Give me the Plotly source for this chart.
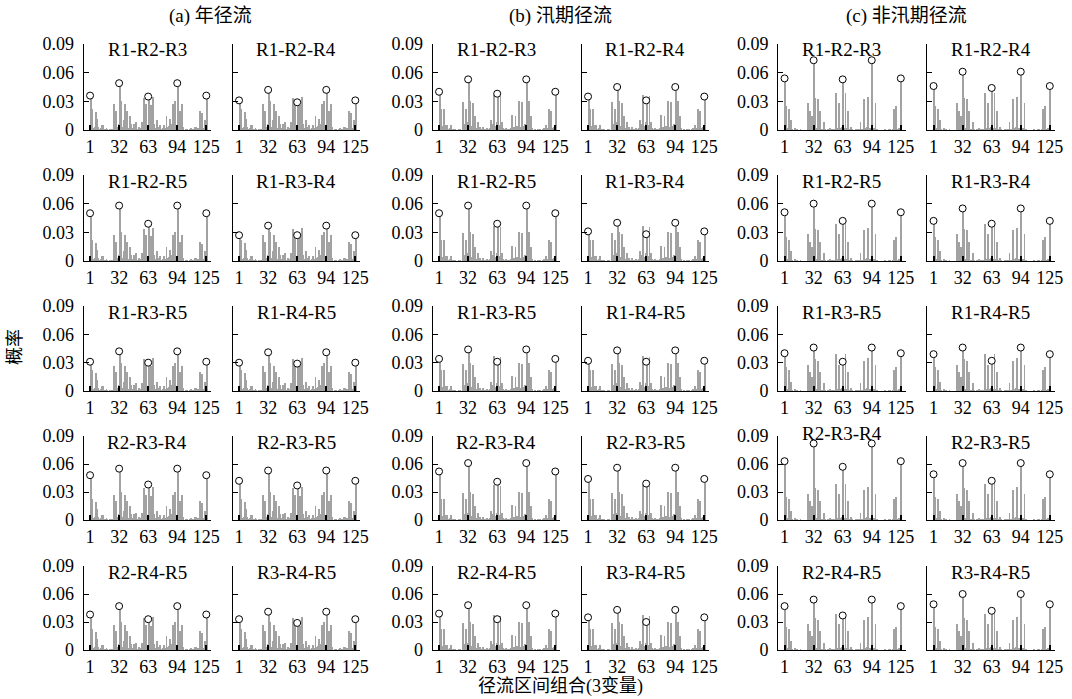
import plotly.graph_objects as go

# ---------------- data ----------------
X_INDEX = list(range(1, 126))
X_TICKS = [1, 32, 63, 94, 125]
X_TICK_TEXT = ["1", "32", "63", "94", "125"]
Y_TICKS = [0, 0.03, 0.06, 0.09]
Y_TICK_TEXT = ["0", "0.03", "0.06", "0.09"]
GROUP_TITLES = ["(a) 年径流", "(b) 汛期径流", "(c) 非汛期径流"]
PANELS = ["R1-R2-R3", "R1-R2-R4", "R1-R2-R5", "R1-R3-R4", "R1-R3-R5",
          "R1-R4-R5", "R2-R3-R4", "R2-R3-R5", "R2-R4-R5", "R3-R4-R5"]
Y_LABEL = "概率"
X_LABEL = "径流区间组合(3变量)"

# bar heights (unit 0.001), combinations 1..125
BARS_A = [36, 4, 22, 2, 1, 3, 19, 12, 3, 1, 1, 2, 5, 5, 1, 0, 1, 2, 1, 0, 0, 1, 1, 1, 0,
          27, 8, 20, 3, 1, 6, 49, 4, 30, 3, 2, 10, 27, 4, 20, 1, 2, 15, 6, 2, 1, 6, 2, 8, 1,
          0, 1, 3, 2, 1, 8, 4, 34, 6, 27, 3, 2, 35, 5, 26, 4, 2, 35, 6, 2, 1, 10, 3, 1, 5,
          0, 1, 2, 5, 1, 2, 15, 3, 1, 4, 12, 2, 6, 27, 3, 30, 2, 5, 49, 2, 20, 2, 4, 27, 3,
          0, 0, 1, 1, 0, 0, 1, 2, 1, 0, 1, 3, 2, 3, 1, 2, 1, 20, 3, 18, 1, 2, 10, 4, 36]
BARS_B = [40, 3, 22, 4, 1, 22, 5, 3, 5, 1, 1, 2, 5, 1, 1, 0, 1, 1, 0, 0, 0, 1, 1, 0, 0,
          29, 3, 6, 22, 2, 8, 54, 3, 30, 4, 2, 28, 6, 15, 2, 1, 8, 2, 3, 1, 0, 3, 1, 1, 0,
          0, 2, 1, 1, 2, 10, 3, 6, 37, 2, 4, 8, 38, 5, 2, 36, 3, 8, 2, 1, 1, 2, 1, 1, 0,
          1, 2, 16, 1, 3, 2, 15, 2, 4, 1, 30, 3, 2, 29, 4, 2, 6, 3, 54, 5, 30, 2, 3, 15, 2,
          0, 0, 1, 0, 0, 1, 0, 1, 0, 0, 1, 2, 1, 2, 5, 2, 1, 22, 2, 20, 1, 2, 3, 1, 40]
BARS_C = [54, 2, 25, 2, 1, 22, 3, 10, 1, 0, 0, 2, 0, 1, 0, 0, 0, 1, 0, 0, 0, 0, 0, 0, 0,
          28, 2, 20, 1, 15, 3, 73, 3, 34, 2, 1, 32, 2, 20, 1, 0, 1, 8, 1, 0, 0, 1, 0, 2, 0,
          0, 1, 0, 1, 0, 39, 2, 1, 28, 2, 1, 3, 53, 2, 1, 39, 2, 1, 20, 1, 0, 3, 1, 0, 0,
          0, 1, 0, 1, 1, 0, 8, 1, 0, 1, 32, 2, 1, 3, 35, 1, 2, 1, 73, 2, 2, 1, 28, 1, 1,
          0, 0, 0, 0, 0, 0, 0, 1, 0, 0, 0, 1, 0, 1, 0, 0, 1, 22, 1, 25, 0, 1, 2, 1, 54]

# circled peak values at 1, 32, 63, 94, 125 (unit 0.001), panels in PANELS order
PEAKS_A = [[36, 49, 35, 49, 36], [31, 42, 29, 42, 31], [50, 58, 39, 58, 50],
           [27, 37, 27, 37, 27], [31, 42, 30, 42, 31], [30, 41, 29, 41, 30],
           [48, 55, 38, 55, 48], [42, 53, 37, 53, 42], [38, 47, 33, 47, 38],
           [33, 41, 29, 41, 33]]
PEAKS_B = [[40, 53, 38, 53, 40], [35, 45, 31, 45, 35], [50, 58, 39, 58, 50],
           [31, 40, 28, 40, 31], [34, 44, 31, 44, 34], [32, 43, 31, 43, 32],
           [52, 61, 41, 61, 52], [44, 56, 39, 56, 44], [39, 48, 33, 48, 39],
           [35, 43, 30, 43, 35]]
PEAKS_C = [[54, 73, 53, 73, 54], [46, 61, 44, 61, 46], [51, 60, 42, 60, 51],
           [42, 55, 39, 55, 42], [40, 46, 31, 46, 40], [39, 46, 32, 46, 39],
           [63, 82, 57, 82, 63], [49, 61, 42, 61, 49], [47, 54, 37, 54, 47],
           [49, 60, 42, 60, 49]]

GROUP_BARS = [BARS_A, BARS_B, BARS_C]
GROUP_PEAKS = [PEAKS_A, PEAKS_B, PEAKS_C]

# ---------------- layout geometry (pixels) ----------------
W, H = 1072, 699
GROUP_X0 = [83.5, 432.5, 778.0]
COL_DX = 149.0
PANEL_W = 127.5
ROW_TOP = [44, 175, 306, 436, 566]
ROW_BOT = [130, 261, 391, 520, 650]
GROUP_TITLE_X = [210, 560, 906]

SERIF = "Liberation Serif, Times New Roman, Noto Sans CJK SC"
BAR_COLOR = "#a2a2a2"


def px(x):
    return x / W


def py(y):
    return 1 - y / H


fig = go.Figure()
layout = dict(
    width=W, height=H,
    margin=dict(l=0, r=0, t=0, b=0),
    paper_bgcolor="white", plot_bgcolor="white",
    showlegend=False, bargap=0,
    font=dict(family=SERIF, size=17, color="black"),
)
annotations = []

k = 0
for g in range(3):
    bars = GROUP_BARS[g]
    for p in range(10):
        r, c = divmod(p, 2)
        k += 1
        xa = "x" if k == 1 else f"x{k}"
        ya = "y" if k == 1 else f"y{k}"
        vals = [v / 1000 for v in bars]
        peaks = [v / 1000 for v in GROUP_PEAKS[g][p]]
        for t, pv in zip(X_TICKS, peaks):
            vals[t - 1] = pv
        fig.add_trace(go.Bar(x=X_INDEX, y=vals, xaxis=xa, yaxis=ya,
                             marker=dict(color=BAR_COLOR, line=dict(width=0)),
                             hoverinfo="skip"))
        fig.add_trace(go.Scatter(x=X_TICKS, y=peaks, xaxis=xa, yaxis=ya,
                                 mode="markers",
                                 marker=dict(symbol="circle", size=7, color="white",
                                             line=dict(color="black", width=1)),
                                 hoverinfo="skip"))
        x0 = GROUP_X0[g] + c * COL_DX
        x1 = x0 + PANEL_W
        y0 = ROW_TOP[r]
        y1 = ROW_BOT[r]
        layout["xaxis" if k == 1 else f"xaxis{k}"] = dict(
            domain=[px(x0), px(x1)], anchor=ya, range=[-6, 130],
            showline=True, linecolor="black", linewidth=1,
            ticks="inside", ticklen=5, tickwidth=1.5, tickcolor="black",
            tickvals=X_TICKS, ticktext=X_TICK_TEXT, showgrid=False, zeroline=False,
            tickfont=dict(family=SERIF, size=18, color="black"), fixedrange=True,
            automargin=False)
        layout["yaxis" if k == 1 else f"yaxis{k}"] = dict(
            domain=[py(y1), py(y0)], anchor=xa, range=[0, 0.09],
            showline=True, linecolor="black", linewidth=1,
            ticks="inside", ticklen=5, tickwidth=1, tickcolor="black",
            tickvals=Y_TICKS, ticktext=Y_TICK_TEXT, showticklabels=(c == 0),
            ticklabelstandoff=5, automargin=False,
            showgrid=False, zeroline=False,
            tickfont=dict(family=SERIF, size=18, color="black"), fixedrange=True)
        ty = y0 + 6
        if g == 2 and PANELS[p] == "R2-R3-R4":
            ty = y0 - 3
        annotations.append(dict(text=PANELS[p], x=px((x0 + x1) / 2), y=py(ty),
                                xref="paper", yref="paper", showarrow=False,
                                xanchor="center", yanchor="middle",
                                font=dict(family=SERIF, size=19, color="black")))

for g in range(3):
    annotations.append(dict(text=GROUP_TITLES[g], x=px(GROUP_TITLE_X[g]), y=py(16),
                            xref="paper", yref="paper", showarrow=False,
                            xanchor="center", yanchor="middle",
                            font=dict(family=SERIF, size=19, color="black")))

annotations.append(dict(text=Y_LABEL, x=px(15), y=py(347), xref="paper", yref="paper",
                        showarrow=False, textangle=-90, xanchor="center", yanchor="middle",
                        font=dict(family=SERIF, size=18, color="black")))
annotations.append(dict(text=X_LABEL, x=px(560), y=py(686), xref="paper", yref="paper",
                        showarrow=False, xanchor="center", yanchor="middle",
                        font=dict(family=SERIF, size=18, color="black")))

layout["annotations"] = annotations
fig.update_layout(**layout)
fig.write_html("out.html", config={"displayModeBar": False},
               post_script="document.body.style.margin='0';"
                           "document.body.style.overflow='hidden';")
